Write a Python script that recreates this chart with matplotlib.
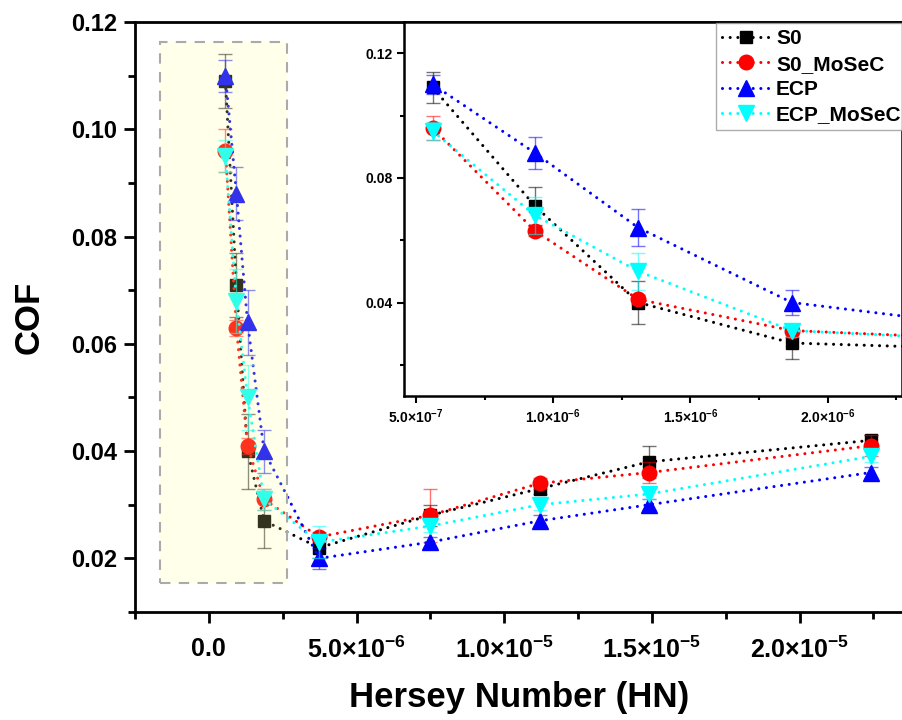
import matplotlib
matplotlib.use("Agg")
import matplotlib.pyplot as plt
from matplotlib.ticker import MultipleLocator, FuncFormatter
from matplotlib.patches import Rectangle

plt.rcParams['font.family'] = ['Liberation Sans', 'DejaVu Sans']
plt.rcParams['font.weight'] = 'bold'
plt.rcParams['mathtext.fontset'] = 'custom'
plt.rcParams['mathtext.rm'] = 'Liberation Sans:bold'
plt.rcParams['mathtext.bf'] = 'Liberation Sans:bold'

# Hersey number for each test condition
hn = [5.6e-7, 9.33e-7, 1.31e-6, 1.87e-6, 3.73e-6, 7.47e-6, 1.12e-5, 1.49e-5, 2.24e-5]

s0 = [0.109, 0.071, 0.040, 0.027, 0.022, 0.028, 0.033, 0.038, 0.042]
s0_err = [0.005, 0.006, 0.007, 0.005, 0.002, 0.002, 0.001, 0.003, 0.001]
s0_mosec = [0.096, 0.063, 0.041, 0.031, 0.024, 0.028, 0.034, 0.036, 0.041]
s0_mosec_err = [0.004, 0.0015, 0.0015, 0.002, 0.001, 0.005, 0.001, 0.002, 0.002]
ecp = [0.110, 0.088, 0.064, 0.040, 0.020, 0.023, 0.027, 0.030, 0.036]
ecp_err = [0.003, 0.005, 0.006, 0.004, 0.002, 0.001, 0.001, 0.001, 0.001]
ecp_mosec = [0.095, 0.068, 0.050, 0.031, 0.023, 0.026, 0.030, 0.032, 0.039]
ecp_mosec_err = [0.003, 0.006, 0.006, 0.002, 0.003, 0.001, 0.001, 0.001, 0.001]

series = [
    ("S0", s0, s0_err, "black", "s", 9),
    ("S0_MoSeC", s0_mosec, s0_mosec_err, "red", "o", 10.5),
    ("ECP", ecp, ecp_err, "blue", "^", 11.5),
    ("ECP_MoSeC", ecp_mosec, ecp_mosec_err, "cyan", "v", 11.5),
]


def sci_fmt(v, pos):
    if abs(v) < 1e-12:
        return "0.0"
    exp = int(("%e" % v).split("e")[1])
    mant = v / 10 ** exp
    return r"$%.1f{\times}10^{%d}$" % (mant, exp)


def draw(ax):
    for name, y, err, c, m, ms in series:
        ax.errorbar(hn, y, yerr=err, fmt="none", ecolor=c, elinewidth=1,
                    capsize=5, capthick=1, alpha=0.55)
        ax.plot(hn, y, linestyle=(0, (0.01, 2.5)), color=c, lw=2.2, marker=m,
                ms=ms, label=name, dash_capstyle="round")


fig = plt.figure(figsize=(9.02, 7.2), dpi=100)
ax = fig.add_axes([0.1497, 0.15, 0.8514, 0.8194])
draw(ax)
ax.set_xlim(-2.5e-6, 2.35e-5)
ax.set_ylim(0.01, 0.12)
ax.xaxis.set_major_locator(MultipleLocator(5e-6))
ax.xaxis.set_minor_locator(MultipleLocator(2.5e-6))
ax.yaxis.set_major_locator(MultipleLocator(0.02))
ax.yaxis.set_minor_locator(MultipleLocator(0.01))
ax.xaxis.set_major_formatter(FuncFormatter(sci_fmt))
ax.yaxis.set_major_formatter(FuncFormatter(lambda v, p: "%.2f" % v))
for s in ax.spines.values():
    s.set_linewidth(2)
ax.tick_params(which="major", length=8, width=2, labelsize=17, pad=5)
ax.tick_params(axis="x", which="major", labelsize=18, pad=10)
ax.tick_params(which="minor", length=5, width=2)
ax.set_xlabel("Hersey Number (HN)", fontsize=25, fontweight="bold", labelpad=13)
ax.set_ylabel("COF", fontsize=25, fontweight="bold", labelpad=18)

# highlighted low-HN region, shown enlarged in the inset
ax.add_patch(Rectangle((-1.64e-6, 0.0155), 4.29e-6, 0.1008, facecolor="#FFFF99",
                       alpha=0.2, edgecolor="none", zorder=5))
ax.add_patch(Rectangle((-1.64e-6, 0.0155), 4.29e-6, 0.1008, facecolor="none",
                       edgecolor="#AAAAAA", lw=1.5, linestyle=(0, (5, 4)), zorder=5))

ins = fig.add_axes([0.448, 0.45, 0.5515, 0.5194])
draw(ins)
ins.set_xlim(4.56e-7, 2.27e-6)
ins.set_ylim(0.01, 0.13)
ins.xaxis.set_major_locator(MultipleLocator(5e-7))
ins.xaxis.set_minor_locator(MultipleLocator(2.5e-7))
ins.yaxis.set_major_locator(MultipleLocator(0.04))
ins.yaxis.set_minor_locator(MultipleLocator(0.02))
ins.xaxis.set_major_formatter(FuncFormatter(sci_fmt))
ins.yaxis.set_major_formatter(FuncFormatter(lambda v, p: "%.2f" % v))
for s in ins.spines.values():
    s.set_linewidth(1.8)
ins.tick_params(which="major", length=5, width=1.5, labelsize=10)
ins.tick_params(which="minor", length=3, width=1.5)
leg = ins.legend(loc="upper right", bbox_to_anchor=(1.015, 1.0),
                 handlelength=2.3, frameon=True, fancybox=False,
                 edgecolor="#999999", borderaxespad=0.05,
                 labelspacing=0.3, borderpad=0.3, handletextpad=0.3,
                 prop={"weight": "bold", "size": 15})
leg.get_frame().set_linewidth(1)

fig.savefig("out.png", dpi=100)
